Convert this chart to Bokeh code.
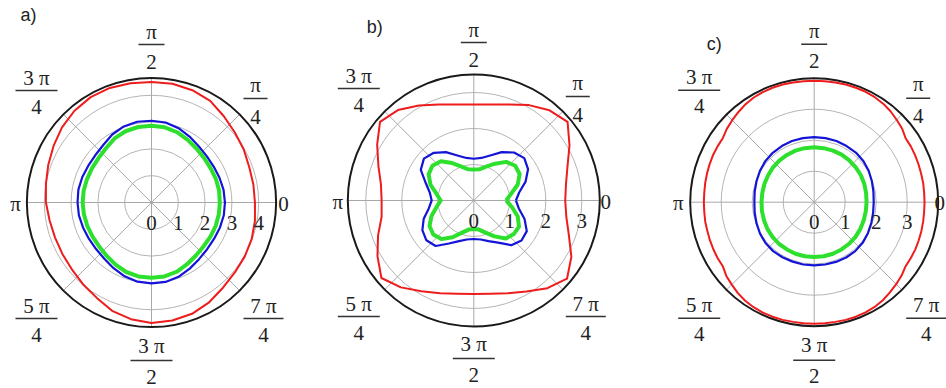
import numpy as np
from bokeh.plotting import figure
from bokeh.layouts import row
from bokeh.core.properties import value
from bokeh.embed import file_html
from bokeh.resources import INLINE

# ---------------- data (radius read at every 10 degrees) ----------------
angles_deg = list(range(0, 360, 10))
angles_fine_deg = list(range(0, 360, 5))   # finer reading for the notched red curve of c)

red_a = [3.86, 3.86, 3.88, 3.97, 4.06, 4.20, 4.38, 4.46, 4.50, 4.50,
         4.52, 4.55, 4.54, 4.47, 4.36, 4.22, 4.10, 4.00, 3.94,
         3.86, 3.83, 3.84, 3.88, 3.98, 4.10, 4.30, 4.42, 4.50,
         4.47, 4.42, 4.30, 4.15, 4.06, 4.02, 3.98, 3.92]
blue_a = [2.74, 2.73, 2.70, 2.68, 2.69, 2.74, 2.84, 2.95, 3.03, 3.05,
          3.06, 3.02, 2.93, 2.80, 2.74, 2.73, 2.75, 2.77, 2.76,
          2.75, 2.72, 2.70, 2.70, 2.74, 2.83, 2.93, 3.00, 3.02,
          3.01, 2.95, 2.85, 2.76, 2.71, 2.70, 2.72, 2.74]
green_a = [2.55, 2.56, 2.56, 2.55, 2.57, 2.62, 2.70, 2.79, 2.85, 2.86,
           2.86, 2.83, 2.76, 2.64, 2.58, 2.56, 2.56, 2.57, 2.57,
           2.56, 2.55, 2.54, 2.55, 2.60, 2.68, 2.76, 2.80, 2.81,
           2.80, 2.75, 2.66, 2.58, 2.54, 2.54, 2.55, 2.55]

red_b = [2.54, 2.60, 2.77, 3.07, 3.40, 3.27, 3.06, 2.84, 2.71, 2.67,
         2.71, 2.84, 3.05, 3.28, 3.40, 3.10, 2.82, 2.62, 2.56,
         2.60, 2.83, 3.09, 3.35, 3.15, 2.91, 2.74, 2.63, 2.60,
         2.63, 2.74, 2.92, 3.18, 3.38, 3.13, 2.81, 2.61]
blue_b = [1.17, 1.28, 1.53, 1.74, 1.83, 1.74, 1.55, 1.33, 1.20, 1.16,
          1.20, 1.33, 1.55, 1.73, 1.81, 1.70, 1.42, 1.24, 1.17,
          1.27, 1.48, 1.65, 1.72, 1.65, 1.38, 1.20, 1.10, 1.07,
          1.10, 1.20, 1.35, 1.62, 1.73, 1.70, 1.50, 1.27]
green_b = [0.90, 1.05, 1.30, 1.47, 1.50, 1.40, 1.18, 1.00, 0.88, 0.86,
           0.88, 1.00, 1.20, 1.42, 1.50, 1.45, 1.28, 1.05, 0.92,
           1.05, 1.25, 1.42, 1.47, 1.40, 1.18, 0.95, 0.82, 0.79,
           0.82, 0.95, 1.15, 1.38, 1.45, 1.45, 1.30, 1.08]

# red c) read every 5 degrees
red_c = [3.56, 3.56, 3.57, 3.57, 3.58, 3.59, 3.60, 3.60, 3.70, 3.76,
         3.83, 3.88, 3.91, 3.93, 3.93, 3.93, 3.92, 3.92, 3.92, 3.92,
         3.92, 3.93, 3.93, 3.92, 3.90, 3.86, 3.80, 3.74, 3.68, 3.60,
         3.60, 3.60, 3.59, 3.58, 3.57, 3.56, 3.56,
         3.56, 3.57, 3.57, 3.58, 3.59, 3.60, 3.60, 3.70, 3.76,
         3.83, 3.88, 3.91, 3.93, 3.93, 3.93, 3.92, 3.92, 3.92, 3.92,
         3.92, 3.93, 3.93, 3.92, 3.90, 3.86, 3.80, 3.74, 3.68, 3.60,
         3.60, 3.60, 3.59, 3.58, 3.57, 3.56]
blue_c = [1.92, 1.94, 1.98, 2.03, 2.07, 2.09, 2.09, 2.10, 2.10, 2.10,
          2.10, 2.10, 2.09, 2.08, 2.06, 2.02, 1.98, 1.95, 1.93,
          1.95, 1.98, 2.02, 2.05, 2.06, 2.05, 2.04, 2.04, 2.04,
          2.04, 2.05, 2.06, 2.06, 2.04, 2.00, 1.96, 1.93]
green_c = [1.69, 1.70, 1.72, 1.74, 1.75, 1.76, 1.77, 1.77, 1.77, 1.77,
           1.77, 1.77, 1.76, 1.75, 1.74, 1.72, 1.71, 1.70, 1.70,
           1.71, 1.72, 1.74, 1.75, 1.76, 1.76, 1.77, 1.77, 1.77,
           1.77, 1.77, 1.76, 1.75, 1.74, 1.72, 1.70, 1.69]

radial_ticks_a = [0, 1, 2, 3, 4]
radial_ticks_b = [0, 1, 2, 3]
radial_ticks_c = [0, 1, 2, 3]
outer_a, outer_b, outer_c = 4.65, 3.5, 4.0
panel_titles = ["a)", "b)", "c)"]

frac_nums = ["π", "π", "3 π", "5 π", "3 π", "7 π"]
frac_dens = ["4", "2", "4", "4", "2", "4"]
plain_labels = ["0", "π"]

# ---------------- layout (page pixels) ----------------
TOP, H = 0, 388
SERIF = value("Liberation Serif")
SANS = value("Liberation Sans")
FS = "21px"

# offsets (px, from centre; +y downward): numerator, bar, denominator, bar half width
frac_layout = [
    ((104, -118), (104, -104), (104, -86), 12),
    ((0, -171), (0, -158), (0, -141), 13),
    ((-115, -125), (-115, -112), (-115, -96), 21),
    ((-115, 103), (-115, 116), (-115, 132), 21),
    ((0, 143), (0, 158), (0, 174), 21),
    ((112, 103), (112, 116), (112, 132), 20),
]


def closed_xy(angles, radii):
    th = np.deg2rad(np.array(list(angles) + [angles[0]]))
    rr = np.array(list(radii) + [radii[0]])
    return rr * np.cos(th), rr * np.sin(th)


def make_panel(left, width, cx, cy, unit, outer, ticks, curves, title, title_off, plain_layout):
    x0 = (left - cx) / unit
    x1 = (left + width - cx) / unit
    y0 = -((TOP + H) - cy) / unit
    y1 = (cy - TOP) / unit
    p = figure(width=width, height=H, x_range=(x0, x1), y_range=(y0, y1),
               output_backend="svg", toolbar_location=None, min_border=0)
    p.axis.visible = False
    p.grid.visible = False
    p.outline_line_color = None
    p.background_fill_color = "white"
    p.border_fill_color = "white"

    rings = [t for t in ticks if t > 0]
    p.circle(x=[0] * len(rings), y=[0] * len(rings), radius=rings,
             fill_color=None, line_color="#b4b4b4", line_width=1)
    sp = np.deg2rad(np.arange(0, 360, 45))
    p.segment(x0=np.zeros(8), y0=np.zeros(8), x1=outer * np.cos(sp), y1=outer * np.sin(sp),
              line_color="#a8a8a8", line_width=1)
    p.circle(x=[0], y=[0], radius=[outer], fill_color=None, line_color="#1a1a1a", line_width=2)

    for (ang, r), col, lw in zip(curves, ("#ee1c1c", "#1414d8", "#2ee02e"), (2, 2.2, 4)):
        xs, ys = closed_xy(ang, r)
        p.line(xs, ys, line_color=col, line_width=lw, line_join="round")

    p.text(x=[t for t in ticks], y=[-20 / unit] * len(ticks), text=[str(t) for t in ticks],
           text_font=SERIF, text_font_size=FS, text_align="center", text_baseline="middle",
           text_color="#222222")

    tx, ty, tt = [], [], []
    bx0, bx1, by = [], [], []
    for num, den, (pn, pb, pd, hw) in zip(frac_nums, frac_dens, frac_layout):
        tx += [pn[0] / unit, pd[0] / unit]
        ty += [-pn[1] / unit, -pd[1] / unit]
        tt += [num, den]
        bx0.append((pb[0] - hw) / unit)
        bx1.append((pb[0] + hw) / unit)
        by.append(-pb[1] / unit)
    for lab, (px, py) in zip(plain_labels, plain_layout):
        tx.append(px / unit)
        ty.append(-py / unit)
        tt.append(lab)
    p.text(x=tx, y=ty, text=tt, text_font=SERIF, text_font_size=FS,
           text_align="center", text_baseline="middle", text_color="#222222")
    p.segment(x0=bx0, y0=by, x1=bx1, y1=by, line_color="#333333", line_width=1.6)

    p.text(x=[title_off[0] / unit], y=[-title_off[1] / unit], text=[title],
           text_font=SANS, text_font_size="18px", text_align="center",
           text_baseline="middle", text_color="#222222")
    return p


pa = make_panel(0, 312, 151, 202, 26.8, outer_a, radial_ticks_a,
                [(angles_deg, red_a), (angles_deg, blue_a), (angles_deg, green_a)],
                panel_titles[0], (-123, -188), [(132, 1), (-136, 1)])
pb = make_panel(312, 328, 473.3, 200, 36.0, outer_b, radial_ticks_b,
                [(angles_deg, red_b), (angles_deg, blue_b), (angles_deg, green_b)],
                panel_titles[1], (-99, -174), [(132, 1), (-136, 1)])
pc = make_panel(640, 306, 813.7, 201.7, 31.0, outer_c, radial_ticks_c,
                [(angles_fine_deg, red_c), (angles_deg, blue_c), (angles_deg, green_c)],
                panel_titles[2], (-100, -158), [(125.5, 1), (-136, 1)])

layout = row(pa, pb, pc, spacing=0)
open("out.html", "w").write(file_html(layout, INLINE))
